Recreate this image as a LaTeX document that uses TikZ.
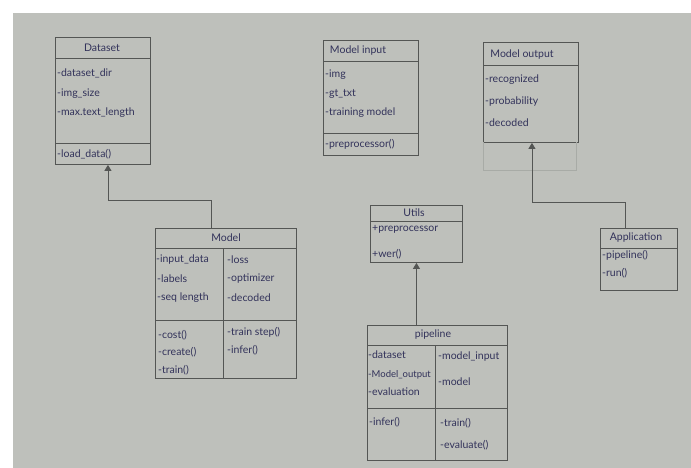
\documentclass[tikz,border=0pt]{standalone}
\usepackage{fontspec}
\setmainfont{Lato}
\usetikzlibrary{arrows.meta}
\definecolor{paper}{RGB}{190,192,187}
\definecolor{pencil}{RGB}{84,86,84}
\definecolor{faint}{RGB}{168,171,166}
\definecolor{ink}{RGB}{50,50,90}
\tikzset{classbox/.style = {draw=pencil, line width=0.9pt, rectangle, inner sep=0, anchor=north west}}
\tikzset{sep/.style = {draw=pencil, line width=0.9pt}}
\tikzset{attr/.style = {anchor=west, inner sep=0, text=ink, font=\fontsize{10.5}{12}\selectfont}}
\tikzset{title/.style = {attr, anchor=center}}
\tikzset{inherit/.style = {draw=pencil, line width=0.9pt, -{Triangle[length=6pt,width=7pt]}}}

\begin{document}
\begin{tikzpicture}[x=1pt, y=-1pt]
  \fill[white] (0,0) rectangle (691,468);
  \fill[paper] (13,13) rectangle (691,468);
  \useasboundingbox (0,0) rectangle (691,468);

  % Dataset
  \node [classbox, minimum width=95pt, minimum height=127pt] (dataset) at (55,37) {};
  \draw [sep] (55,58) -- (150,58);
  \draw [sep] (55,143) -- (150,143);
  \node [title] (ds-t) at (102,48) {Dataset};
  \node [attr] (ds-a1) at (57,73) {-dataset\_dir};
  \node [attr] (ds-a2) at (57,94) {-img\_size};
  \node [attr] (ds-a3) at (57,113) {-max.text\_length};
  \node [attr] (ds-m1) at (57,154) {-load\_data()};

  % Model input
  \node [classbox, minimum width=95pt, minimum height=115pt] (modelinput) at (323,40) {};
  \draw [sep] (323,61) -- (418,61);
  \draw [sep] (323,133) -- (418,133);
  \node [title] (mi-t) at (358,51) {Model input};
  \node [attr] (mi-a1) at (325,75) {-img};
  \node [attr] (mi-a2) at (325,94) {-gt\_txt};
  \node [attr] (mi-a3) at (325,113) {-training model};
  \node [attr] (mi-m1) at (325,144) {-preprocessor()};

  % Model output
  \node [classbox, minimum width=95pt, minimum height=100pt] (modeloutput) at (483,42) {};
  \draw [sep] (483,65) -- (578,65);
  \draw [faint, line width=0.6pt] (483,142) -- (483,170) -- (576,170) -- (576,142);
  \node [title] (mo-t) at (522,55) {Model output};
  \node [attr] (mo-a1) at (485,80) {-recognized};
  \node [attr] (mo-a2) at (485,102) {-probability};
  \node [attr] (mo-a3) at (485,123) {-decoded};

  % Model
  \node [classbox, minimum width=141pt, minimum height=150pt] (model) at (155,228) {};
  \draw [sep] (155,248) -- (296,248);
  \draw [sep] (155,320) -- (296,320);
  \draw [sep] (223,248) -- (223,378);
  \node [title] (m-t) at (226,238) {Model};
  \node [attr] (m-a1) at (156,260) {-input\_data};
  \node [attr] (m-a2) at (157,279) {-labels};
  \node [attr] (m-a3) at (157,298) {-seq length};
  \node [attr] (m-a4) at (227,260) {-loss};
  \node [attr] (m-a5) at (227,279) {-optimizer};
  \node [attr] (m-a6) at (227,298) {-decoded};
  \node [attr] (m-m1) at (158,335) {-cost()};
  \node [attr] (m-m2) at (158,352) {-create()};
  \node [attr] (m-m3) at (158,370) {-train()};
  \node [attr] (m-m4) at (227,332) {-train step()};
  \node [attr] (m-m5) at (227,350) {-infer()};

  % Utils
  \node [classbox, minimum width=92pt, minimum height=57pt] (utils) at (370,205) {};
  \draw [sep] (370,221) -- (462,221);
  \node [title] (u-t) at (414,213) {Utils};
  \node [attr] (u-a1) at (372,229) {+preprocessor};
  \node [attr] (u-m1) at (372,254) {+wer()};

  % pipeline
  \node [classbox, minimum width=140pt, minimum height=135pt] (pipeline) at (367,325) {};
  \draw [sep] (367,345) -- (507,345);
  \draw [sep] (367,408) -- (507,408);
  \draw [sep] (435,345) -- (435,460);
  \node [title] (p-t) at (433,335) {pipeline};
  \node [attr] (p-a1) at (368,355) {-dataset};
  \node [attr, font=\fontsize{9.5}{11}\selectfont] (p-a2) at (368,375) {-Model\_output};
  \node [attr] (p-a3) at (368,392) {-evaluation};
  \node [attr] (p-a4) at (438,357) {-model\_input};
  \node [attr] (p-a5) at (438,382) {-model};
  \node [attr] (p-m1) at (369,422) {-infer()};
  \node [attr] (p-m2) at (440,423) {-train()};
  \node [attr] (p-m3) at (440,445) {-evaluate()};

  % Application
  \node [classbox, minimum width=77pt, minimum height=62pt] (application) at (600,228) {};
  \draw [sep] (600,248) -- (677,248);
  \node [title] (a-t) at (636,238) {Application};
  \node [attr] (a-m1) at (602,255) {-pipeline()};
  \node [attr] (a-m2) at (602,273) {-run()};

  % inheritance
  \draw [inherit] ([xshift=-15pt]model.north) |- ([xshift=5pt, yshift=-36pt]dataset.south) -- ([xshift=5pt]dataset.south);
  \draw [inherit] (pipeline.north -| utils.south) -- (utils.south);
  \draw [inherit] ([xshift=-14pt]application.north) |- ([xshift=1pt, yshift=-60pt]modeloutput.south) -- ([xshift=1pt]modeloutput.south);
\end{tikzpicture}
\end{document}
